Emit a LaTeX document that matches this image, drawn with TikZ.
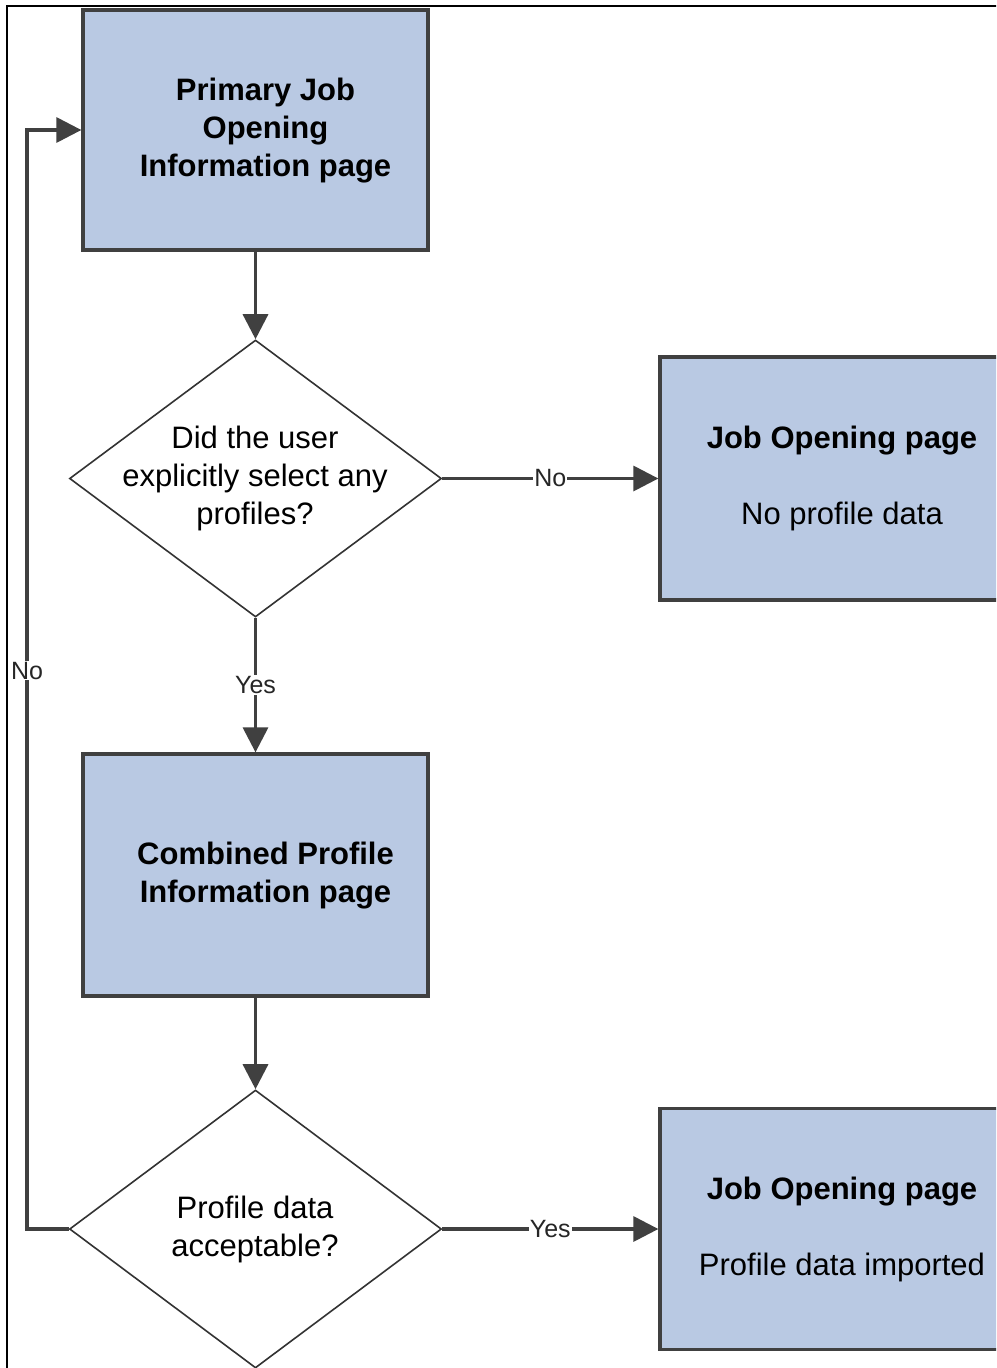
\documentclass[tikz,border=0pt]{standalone}
\usepackage{fontspec}
\setmainfont{Liberation Sans}
\usetikzlibrary{shapes.geometric,arrows.meta}
\definecolor{boxfill}{RGB}{185,201,227}
\definecolor{edgecol}{RGB}{64,64,64}
\begin{document}
\begin{tikzpicture}[x=1pt,y=-1pt,
  pagebox/.style={rectangle, draw=edgecol, line width=3.3pt, fill=boxfill, inner sep=0pt, align=center, font=\fontsize{31}{38}\selectfont},
  decision/.style={diamond, draw=edgecol!80!black, line width=1.6pt, fill=white, inner sep=0pt},
  dtext/.style={align=center, inner sep=0pt, font=\fontsize{31}{38}\selectfont},
  flow/.style={draw=edgecol, line width=3.3pt, -{Triangle[length=25pt,width=25pt]}},
  elabel/.style={fill=white, inner sep=1pt, font=\fontsize{25}{25}\selectfont, text=black!85}
]
\useasboundingbox (0,0) rectangle (996,1368);
\clip (0,0) rectangle (996,1368);
\fill[white] (0,0) rectangle (996,1368);
% frame
\draw[line width=1.5pt, black] (7,1380) -- (7,6) -- (1000,6);

% nodes
\node[pagebox, minimum width=345pt, minimum height=240pt] (b1) at (255.5,130) {};
\node[dtext, font=\fontsize{31}{38}\selectfont\bfseries] (b1t) at (265.5,131)
  {Primary Job\\Opening\\Information page};
\node[decision, minimum width=372pt, minimum height=277pt] (d1) at (255.5,478.5) {};
\node[dtext] (d1t) at (255,478) {Did the user\\explicitly select any\\profiles?};
\node[pagebox, minimum width=364pt, minimum height=243pt] (b2) at (842,478.5)
  {\textbf{Job Opening page}\\[38pt]No profile data};
\node[pagebox, minimum width=345pt, minimum height=242pt] (b3) at (255.5,875) {};
\node[dtext, font=\fontsize{31}{38}\selectfont\bfseries] (b3t) at (265.5,876)
  {Combined Profile\\Information page};
\node[decision, minimum width=372pt, minimum height=278pt] (d2) at (255.5,1229) {};
\node[dtext] (d2t) at (255,1229) {Profile data\\acceptable?};
\node[pagebox, minimum width=364pt, minimum height=241pt] (b4) at (842,1229)
  {\textbf{Job Opening page}\\[38pt]Profile data imported};

\coordinate (lc1) at (27,1229);
\coordinate (lc2) at (27,130);

% connectors
\draw[flow] (b1.south) -- (d1.north);
\draw[flow] (d1.east) -- node[elabel]{No} (b2.west);
\draw[flow] (d1.south) -- node[elabel]{Yes} (b3.north);
\draw[flow] (b3.south) -- (d2.north);
\draw[flow] (d2.east) -- node[elabel]{Yes} (b4.west);
\draw[flow] (d2.west) -- (lc1) -- node[elabel, pos=0.508]{No} (lc2) -- (b1.west);
\end{tikzpicture}
\end{document}
